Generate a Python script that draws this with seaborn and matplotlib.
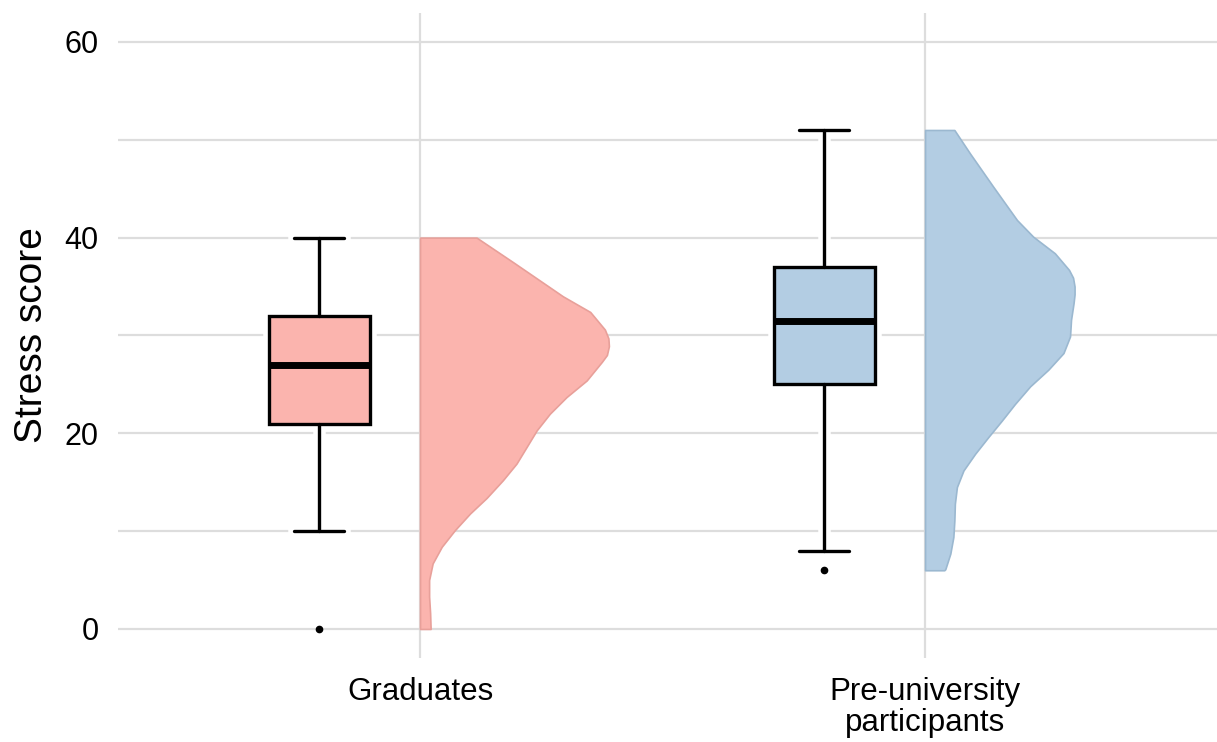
import numpy as np
import matplotlib
matplotlib.use("Agg")
import matplotlib.pyplot as plt
from matplotlib.patches import PathPatch
import seaborn as sns

# categories and box statistics
groups = ["Graduates", "Pre-university\nparticipants"]
box_low = [10, 8]
box_q1 = [21, 25]
box_med = [27, 31.5]
box_q3 = [32, 37]
box_high = [40, 51]
outliers = [[0], [6]]

# half-violin outline (value, half width in category units)
grad_vals = [0, 1.6, 3.3, 5, 6.7, 8.4, 10.1, 11.8, 13.4, 15.2, 16.9, 18.6,
             20.3, 22, 23.7, 25.4, 27.3, 28.0, 28.9, 29.7, 30.6, 32.4, 34,
             37.5, 40]
grad_dens = [0.021, 0.020, 0.018, 0.018, 0.025, 0.043, 0.069, 0.099, 0.132,
             0.164, 0.191, 0.211, 0.231, 0.257, 0.290, 0.330, 0.360, 0.370,
             0.374, 0.373, 0.366, 0.337, 0.283, 0.184, 0.112]
pre_vals = [6, 6.1, 7.7, 9.4, 11.1, 12.8, 14.5, 16.2, 17.9, 19.6, 21.3, 23,
            24.8, 26.5, 28.2, 29.9, 31.6, 33.3, 34.2, 35, 35.9, 36.7, 38.4,
            40.1, 41.8, 45.2, 48.6, 51]
pre_dens = [0.038, 0.040, 0.050, 0.056, 0.058, 0.059, 0.063, 0.076, 0.099,
            0.125, 0.152, 0.178, 0.208, 0.244, 0.274, 0.287, 0.289, 0.294,
            0.296, 0.296, 0.293, 0.285, 0.257, 0.214, 0.182, 0.135, 0.089,
            0.058]

sns.set_theme(style="whitegrid")
plt.rcParams['font.family'] = ['Liberation Sans', 'DejaVu Sans']

colors = sns.color_palette("Pastel1", 2)
edge_cols = ["#E8A09A", "#9BB8D0"]
grid_col = "#DDDDDD"

fig = plt.figure(figsize=(12.17, 7.42), dpi=100)
ax = fig.add_axes([118 / 1217, 83.7 / 742, 1 - 118 / 1217, 645.7 / 742])

# half violins
for i, (vals, dens) in enumerate([(grad_vals, grad_dens), (pre_vals, pre_dens)]):
    v = np.array(vals)
    d = np.array(dens)
    ax.fill_betweenx(v, i, i + d, color=colors[i], edgecolor=edge_cols[i],
                     linewidth=1.2, zorder=3)

# boxplots shifted to the left of each category
stats = []
for i in range(len(groups)):
    stats.append(dict(whislo=box_low[i], q1=box_q1[i], med=box_med[i],
                      q3=box_q3[i], whishi=box_high[i], fliers=outliers[i]))
bp = ax.bxp(stats, positions=[-0.2, 0.8], widths=0.2, capwidths=0.1,
            patch_artist=True, showfliers=True, manage_ticks=False,
            boxprops=dict(linewidth=2.4, edgecolor="black"),
            whiskerprops=dict(linewidth=2.4, color="black"),
            capprops=dict(linewidth=2.4, color="black"),
            medianprops=dict(linewidth=5, color="black", solid_capstyle="butt"),
            flierprops=dict(marker="o", markersize=4.5, markerfacecolor="black",
                            markeredgecolor="black"))
for patch, c in zip(bp["boxes"], colors):
    patch.set_facecolor(c)
    patch.set_zorder(5)
    # white halo behind the box outline
    ax.add_patch(PathPatch(patch.get_path(), fill=False, edgecolor="white",
                           linewidth=9, zorder=4))
for key in ["whiskers", "caps"]:
    for ln in bp[key]:
        ln.set_zorder(5)
        ax.plot(ln.get_xdata(), ln.get_ydata(), color="white", linewidth=9,
                solid_capstyle="projecting", zorder=4)
for ln in bp["medians"]:
    ln.set_zorder(6)
for ln in bp["fliers"]:
    ln.set_zorder(6)

ax.set_xlim(-0.598, 1.578)
ax.set_ylim(-3, 63)
ax.set_xticks(range(len(groups)))
ax.set_xticklabels(groups, fontsize=22.5, linespacing=1.06)
ax.set_yticks([0, 20, 40, 60])
ax.set_yticks([10, 30, 50], minor=True)
ax.tick_params(axis="y", labelsize=22, pad=14, length=0)
ax.tick_params(axis="x", pad=13.5, length=0)
ax.tick_params(which="minor", length=0)
ax.grid(True, which="both", axis="y", color=grid_col, linewidth=1.6, zorder=0)
ax.grid(True, which="major", axis="x", color=grid_col, linewidth=1.6, zorder=0)
ax.set_axisbelow(True)
for s in ax.spines.values():
    s.set_visible(False)
ax.set_xlabel("")
ax.set_ylabel("Stress score", fontsize=28)
ax.yaxis.set_label_coords(-0.062, 0.5)
for lab in ax.get_xticklabels() + ax.get_yticklabels():
    lab.set_color("black")
ax.yaxis.label.set_color("black")

fig.savefig("out.png", dpi=100, facecolor="white")
